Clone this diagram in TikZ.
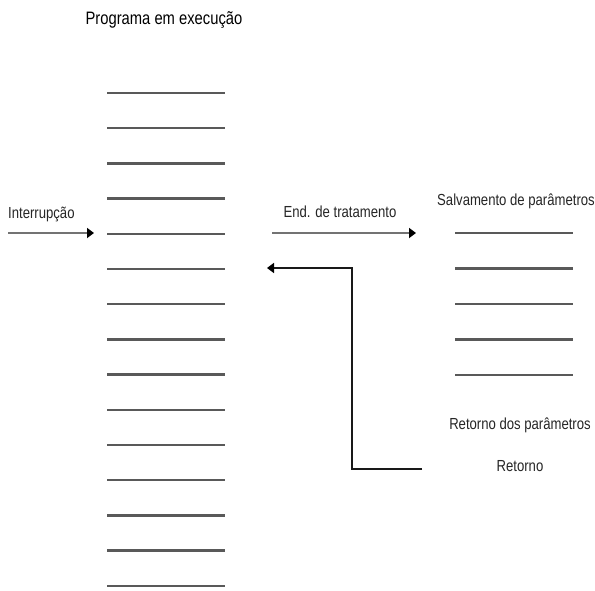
\documentclass[tikz,border=0pt]{standalone}
\usepackage{fontspec}
\setmainfont{Liberation Sans}[FakeStretch=0.82]
\usetikzlibrary{arrows.meta}
\begin{document}
\begin{tikzpicture}[x=1pt,y=-1pt,
  rule/.style={draw=black!65,line width=2.3pt},
  flow/.style={draw=black!55,line width=2.2pt,-{Triangle[length=7pt,width=10pt,color=black]}},
  back/.style={draw=black!90,line width=1.5pt,-{Triangle[length=7pt,width=10pt,color=black]}},
  lbl/.style={inner sep=0pt,font=\fontsize{16}{18}\selectfont,text=black!85}]
\useasboundingbox[fill=white] (0,0) rectangle (595,590);
% main program listing
\foreach \i in {0,...,14}
  \draw[rule] (107,{93+35.2*\i}) -- (225,{93+35.2*\i});
% handler listing
\foreach \i in {0,...,4}
  \draw[rule] (455,{233+35.5*\i}) -- (573,{233+35.5*\i});
% labels
\node[lbl,text=black,font=\fontsize{18}{20}\selectfont] (title) at (164,20) {Programa em execução};
\node[lbl,anchor=west] (intr) at (8,214) {Interrupção};
\node[lbl] (endt) at (340,212) {End. de tratamento};
\node[lbl] (salv) at (516,201) {Salvamento de parâmetros};
\node[lbl] (retp) at (520,425) {Retorno dos parâmetros};
\node[lbl] (ret) at (520,466) {Retorno};
% connectors
\coordinate (inA) at (8,233);
\coordinate (inB) at (94,233);
\coordinate (jmpA) at (272,233);
\coordinate (jmpB) at (416,233);
\coordinate (rA) at (422,469);
\coordinate (rC) at (352,469);
\coordinate (rD) at (352,268);
\coordinate (rB) at (267,268);
\draw[flow] (inA) -- (inB);
\draw[flow] (jmpA) -- (jmpB);
\draw[back] (rA) -- (rC) -- (rD) -- (rB);
\end{tikzpicture}
\end{document}
